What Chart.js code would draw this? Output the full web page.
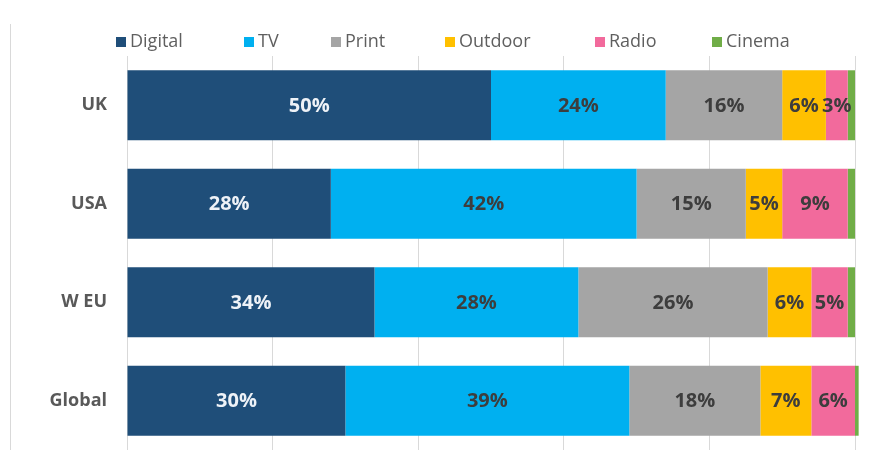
<!DOCTYPE html>
<html>
<head>
<meta charset="utf-8">
<script src="https://cdn.jsdelivr.net/npm/chart.js@4"></script>
<style>
    html, body { margin: 0; padding: 0; background: #ffffff; }
    #wrap { position: relative; width: 869px; height: 450px; }
    #frame { position: absolute; left: 10px; top: 24px; width: 0; height: 426px; border-left: 1px solid #d9d9d9; }
    canvas { position: absolute; left: 0; top: 0; }
</style>
</head>
<body>
<div id="wrap">
    <div id="frame"></div>
    <canvas id="mediaChart" width="869" height="450"></canvas>
</div>
<script>
// ===========================
// Ad spend share by medium
// ===========================

const regions = ['UK', 'USA', 'W EU', 'Global'];

const digital = [50, 28, 34, 30];
const tv      = [24, 42, 28, 39];
const print   = [16, 15, 26, 18];
const outdoor = [6, 5, 6, 7];
const radio   = [3, 9, 5, 6];
const cinema  = [1, 1, 1, 0.5];

const mediaNames  = ['Digital', 'TV', 'Print', 'Outdoor', 'Radio', 'Cinema'];
const mediaColors = ['#1f4e79', '#00b0f0', '#a5a5a5', '#ffc000', '#f26a9c', '#70ad47'];
const labelColors = ['#eef2f7', '#3d3d3d', '#3d3d3d', '#3d3d3d', '#3d3d3d', null];

const seriesValues = [digital, tv, print, outdoor, radio, cinema];

// percent labels in the middle of each segment (no label on cinema)
const segmentLabels = {
    id: 'segmentLabels',
    afterDatasetsDraw(chart) {
        const ctx = chart.ctx;
        ctx.save();
        ctx.font = 'bold 20px "Open Sans", sans-serif';
        ctx.textAlign = 'center';
        ctx.textBaseline = 'middle';
        chart.data.datasets.forEach((ds, i) => {
            if (!labelColors[i]) return;
            const meta = chart.getDatasetMeta(i);
            meta.data.forEach((bar, j) => {
                const cx = (bar.x + bar.base) / 2;
                ctx.fillStyle = labelColors[i];
                ctx.fillText(ds.data[j] + '%', cx, bar.y + 1);
            });
        });
        ctx.restore();
    }
};

// legend row above the plot, spaced out like the original layout
const legendRow = {
    id: 'legendRow',
    afterDraw(chart) {
        const ctx = chart.ctx;
        const boxX = [116, 244, 331, 445, 595, 712];
        const y = 42;
        ctx.save();
        ctx.font = '18px "Open Sans", sans-serif';
        ctx.textBaseline = 'middle';
        chart.data.datasets.forEach((ds, i) => {
            ctx.fillStyle = ds.backgroundColor;
            ctx.fillRect(boxX[i], y - 5, 10, 10);
            ctx.fillStyle = '#5f5f5f';
            ctx.fillText(ds.label, boxX[i] + 14, y);
        });
        ctx.restore();
    }
};

const chart = new Chart(document.getElementById('mediaChart'), {
    type: 'bar',
    data: {
        labels: regions,
        datasets: mediaNames.map((name, i) => ({
            label: name,
            data: seriesValues[i],
            backgroundColor: mediaColors[i],
            borderWidth: 0,
            barPercentage: 0.71,
            categoryPercentage: 1,
            clip: false
        }))
    },
    options: {
        indexAxis: 'y',
        responsive: false,
        animation: false,
        layout: {
            padding: { top: 56, bottom: 0, left: 0, right: 14 }
        },
        plugins: {
            legend: { display: false },
            tooltip: { enabled: false }
        },
        scales: {
            x: {
                stacked: true,
                min: 0,
                max: 100,
                afterFit(scale) {
                    scale.height = 0;
                },
                ticks: { display: false, stepSize: 20 },
                border: { display: false },
                grid: {
                    color: '#d9d9d9',
                    drawTicks: false
                }
            },
            y: {
                stacked: true,
                afterFit(scale) {
                    // fixed gutter for the region names, no extra margin below
                    scale.width = 127;
                    scale.paddingTop = 0;
                    scale.paddingBottom = 0;
                },
                border: { display: false },
                grid: { display: false },
                ticks: {
                    color: '#595959',
                    padding: 12,
                    font: {
                        family: '"Open Sans", sans-serif',
                        size: 18,
                        weight: 'bold'
                    }
                }
            }
        }
    },
    plugins: [segmentLabels, legendRow]
});
</script>
</body>
</html>
